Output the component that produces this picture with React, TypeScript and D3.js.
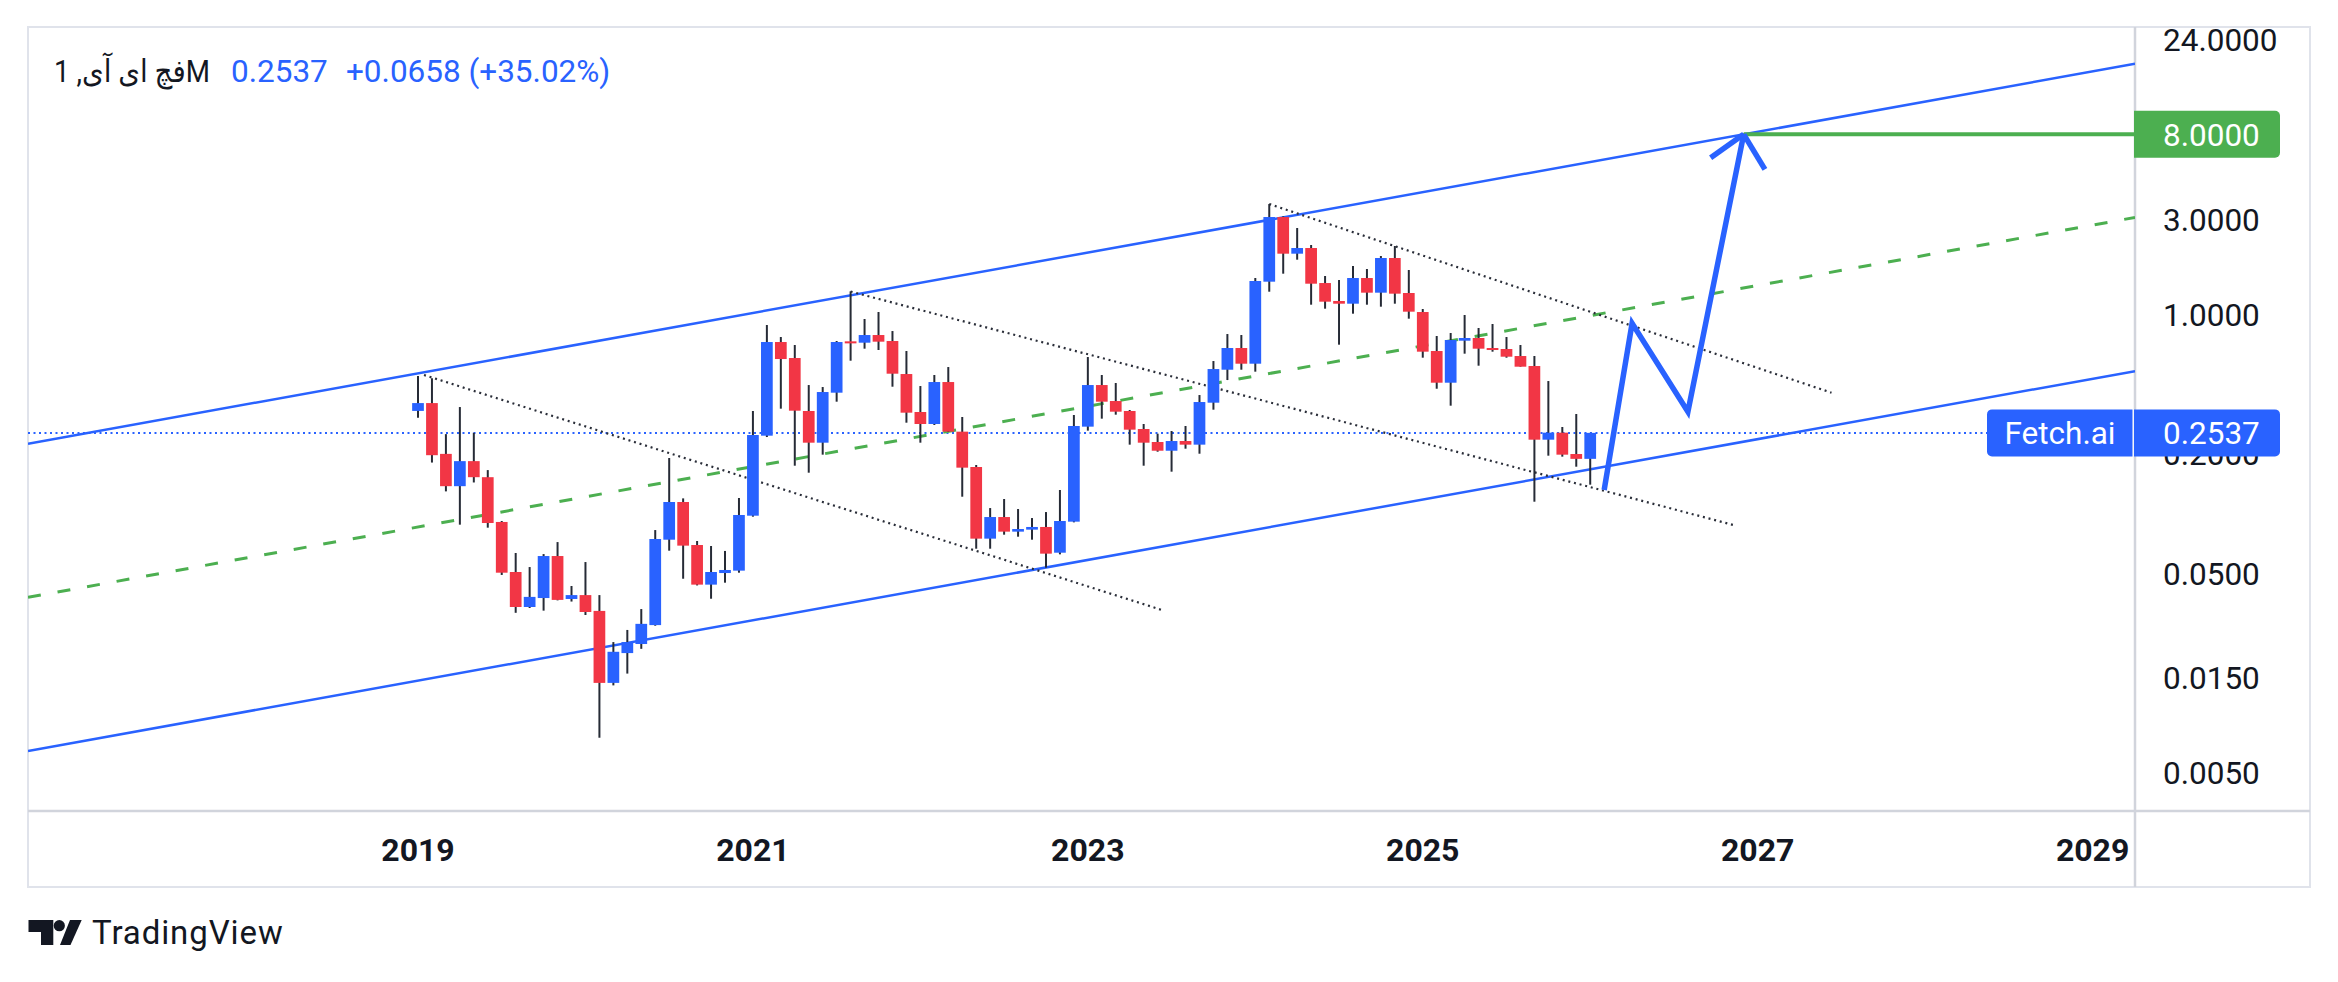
import * as d3 from "d3";

// monthly candles, first bar = Jan 2019 (bar index 0)
const opens = [
  0.327, 0.358, 0.199, 0.137, 0.183, 0.152, 0.0906, 0.0508, 0.0339, 0.0376,
  0.0611, 0.0372, 0.0389, 0.0324, 0.0141, 0.0199, 0.0221, 0.0275, 0.0738, 0.1141,
  0.0694, 0.0439, 0.0502, 0.0516, 0.0974, 0.2456, 0.7251, 0.6027, 0.3267, 0.2265,
  0.4037, 0.7309, 0.7195, 0.7862, 0.7336, 0.5009, 0.3229, 0.2811, 0.4566, 0.2573,
  0.171, 0.0747, 0.0959, 0.081, 0.0829, 0.0855, 0.0635, 0.0909, 0.2726, 0.441,
  0.3666, 0.3267, 0.2653, 0.2283, 0.2064, 0.2309, 0.2214, 0.3596, 0.5265, 0.6766,
  0.5644, 1.4564, 3.0754, 2.013, 2.1494, 1.434, 1.1649, 1.1293, 1.5196, 1.2827,
  1.9148, 1.2778, 1.0257, 0.6535, 0.4531, 0.7364, 0.7596, 0.6766, 0.6689, 0.6168,
  0.5495, 0.2345, 0.2543, 0.1987, 0.1879,
];
const highs = [
  0.49, 0.477, 0.25, 0.342, 0.254, 0.165, 0.0916, 0.0633, 0.0538, 0.0625,
  0.0718, 0.0432, 0.057, 0.0389, 0.0226, 0.026, 0.0331, 0.0825, 0.1897, 0.119,
  0.0727, 0.0686, 0.0648, 0.1195, 0.3267, 0.8826, 0.7683, 0.7004, 0.441, 0.431,
  0.7336, 1.3024, 0.946, 1.0257, 0.8233, 0.6535, 0.436, 0.4952, 0.5431, 0.3048,
  0.175, 0.1064, 0.1181, 0.1052, 0.0948, 0.1016, 0.1311, 0.3119, 0.6097, 0.4952,
  0.4514, 0.3304, 0.2811, 0.2513, 0.2593, 0.2747, 0.3929, 0.5821, 0.7953, 0.7862,
  1.5196, 3.5737, 3.1, 2.7082, 2.2252, 1.5551, 1.4848, 1.7458, 1.6863, 1.9596,
  2.1996, 1.6669, 1.0619, 0.7772, 0.8047, 0.9908, 0.8527, 0.8929, 0.7683, 0.7004,
  0.6168, 0.4619, 0.2716, 0.3155, 0.2537,
];
const lows = [
  0.302, 0.18, 0.129, 0.0878, 0.143, 0.0848, 0.0491, 0.0317, 0.0335, 0.0325,
  0.0366, 0.0361, 0.0309, 0.00748, 0.0137, 0.0157, 0.0209, 0.0273, 0.065, 0.047,
  0.0435, 0.0373, 0.0449, 0.0504, 0.0963, 0.2418, 0.3356, 0.1736, 0.1601, 0.1972,
  0.3638, 0.5843, 0.6714, 0.6612, 0.4326, 0.2854, 0.2265, 0.2779, 0.2563, 0.1213,
  0.0665, 0.0665, 0.0782, 0.0764, 0.0738, 0.0534, 0.0623, 0.0902, 0.2603, 0.299,
  0.3131, 0.2214, 0.1736, 0.2041, 0.162, 0.2113, 0.1994, 0.3317, 0.4672, 0.5265,
  0.5147, 1.2973, 1.5976, 1.8783, 1.1164, 1.066, 0.7031, 1.0061, 1.1164, 1.0909,
  1.1293, 0.9496, 0.605, 0.4226, 0.3474, 0.6337, 0.5515, 0.6485, 0.605, 0.5452,
  0.1145, 0.1949, 0.1927, 0.1716, 0.1394,
];
const closes = [
  0.358, 0.196, 0.137, 0.183, 0.152, 0.0895, 0.0504, 0.0339, 0.0381, 0.0611,
  0.0368, 0.0389, 0.032, 0.0141, 0.0202, 0.0226, 0.0279, 0.0744, 0.1141, 0.0689,
  0.0439, 0.0508, 0.052, 0.0982, 0.2475, 0.7251, 0.5957, 0.3279, 0.2265, 0.4068,
  0.7251, 0.714, 0.7862, 0.728, 0.5028, 0.3204, 0.2811, 0.4566, 0.2573, 0.1697,
  0.0747, 0.0959, 0.081, 0.0835, 0.0855, 0.0628, 0.0916, 0.2747, 0.441, 0.3638,
  0.3241, 0.2633, 0.2265, 0.2064, 0.2309, 0.2214, 0.3624, 0.5306, 0.6766, 0.5644,
  1.4678, 3.0754, 2.013, 2.1494, 1.4229, 1.1559, 1.1293, 1.5196, 1.2827, 1.9148,
  1.268, 1.0297, 0.6485, 0.4531, 0.7421, 0.7596, 0.6714, 0.6637, 0.612, 0.5452,
  0.2345, 0.2543, 0.1972, 0.1879, 0.2537,
];

const firstYear = 2019;
const yearLabels = ["2019", "2021", "2023", "2025", "2027", "2029"];
const priceTicks = [24, 8, 3, 1, 0.2, 0.05, 0.015, 0.005];
const lastPrice = 0.2537;
const targetPrice = 8;
const symbolName = "فچ ای آی, 1M";

// drawings as [bar index, price]
const channelTop = [[16, 0.804], [95, 8.0]];
const channelWidth = 34.9; // price ratio top / bottom
const trendLines = [
  [[0.43, 0.4952], [53.31, 0.03274]],
  [[31, 1.3], [94.42, 0.0869]],
  [[61, 3.574], [101.29, 0.4036]],
];
const arrowPath = [[85, 0.131], [87, 0.9], [91, 0.324], [95, 8.0]];
const arrowWings = [[92.63, 6.106], [96.52, 5.339]];

const BLUE = "#2962FF";
const RED = "#F23645";
const GREEN = "#4CAF50";
const TEXT = "#131722";
const FONT = "Roboto, 'DejaVu Sans', sans-serif";

export default function App() {
  const P = { l: 28, t: 27, r: 2135, b: 811 };
  const frameR = 2310;
  const frameB = 887;

  const x = d3.scaleLinear().domain([0, 120]).range([418, 2092.6]);
  const y = d3.scaleLog().domain([0.003207, 27.66]).range([P.b, P.t]);
  const step = x(1) - x(0);
  const bodyW = step * 0.84;

  const pt = (d: number[]) => [x(d[0]), y(d[1])] as [number, number];
  const extend = (a: number[], b: number[]) => {
    const [x1, y1] = pt(a);
    const [x2, y2] = pt(b);
    const k = (y2 - y1) / (x2 - x1);
    return `M${P.l},${y1 + (P.l - x1) * k}L${P.r},${y1 + (P.r - x1) * k}`;
  };
  const line = d3.line<number[]>().x((d) => x(d[0])).y((d) => y(d[1]));

  const chTop = channelTop;
  const chBot = channelTop.map(([i, p]) => [i, p / channelWidth]);
  const chMid = channelTop.map(([i, p]) => [i, p / Math.sqrt(channelWidth)]);

  const tip = arrowPath[arrowPath.length - 1];
  const yLast = y(lastPrice);
  const yTarget = y(targetPrice);
  const boxH = 47;

  return (
    <svg
      width={2338}
      height={982}
      style={{ position: "absolute", left: 0, top: 0, background: "#fff" }}
      fontFamily={FONT}
    >
      <defs>
        <clipPath id="plot">
          <rect x={P.l} y={P.t} width={P.r - P.l} height={P.b - P.t} />
        </clipPath>
      </defs>
      <rect x={0} y={0} width={2338} height={982} fill="#fff" />

      {/* frame */}
      <rect x={P.l} y={P.t} width={frameR - P.l} height={frameB - P.t} fill="none" stroke="#e0e3eb" strokeWidth={2} />
      <line x1={P.l} x2={frameR} y1={P.b} y2={P.b} stroke="#d1d4dc" strokeWidth={2.5} />
      <line x1={P.r} x2={P.r} y1={P.t} y2={frameB} stroke="#d1d4dc" strokeWidth={2.5} />

      <g clipPath="url(#plot)">
        {/* last price line */}
        <line x1={P.l} x2={P.r} y1={yLast} y2={yLast} stroke={BLUE} strokeWidth={2} strokeDasharray="2 3.5" />

        {/* parallel channel */}
        <path d={extend(chTop[0], chTop[1])} stroke={BLUE} strokeWidth={2.5} fill="none" />
        <path d={extend(chBot[0], chBot[1])} stroke={BLUE} strokeWidth={2.5} fill="none" />
        <path d={extend(chMid[0], chMid[1])} stroke={GREEN} strokeWidth={3} strokeDasharray="13 17" fill="none" />

        {/* dotted trend lines */}
        {trendLines.map((l, i) => (
          <path key={i} d={line(l) || ""} stroke="#2a2e39" strokeWidth={2.2} strokeDasharray="2 3.8" fill="none" />
        ))}

        {/* candles */}
        {opens.map((o, i) => {
          const c = closes[i];
          const up = c >= o;
          const cx = x(i);
          const top = y(Math.max(o, c));
          const bot = y(Math.min(o, c));
          return (
            <g key={i}>
              <line x1={cx} x2={cx} y1={y(highs[i])} y2={y(lows[i])} stroke="#262b36" strokeWidth={2} />
              <rect x={cx - bodyW / 2} y={top} width={bodyW} height={Math.max(bot - top, 2)} fill={up ? BLUE : RED} />
            </g>
          );
        })}

        {/* target line */}
        <line x1={x(tip[0])} x2={P.r} y1={yTarget} y2={yTarget} stroke={GREEN} strokeWidth={4} />

        {/* projection arrow */}
        <path d={line(arrowPath) || ""} stroke={BLUE} strokeWidth={5.5} fill="none" strokeLinejoin="miter" />
        {arrowWings.map((w, i) => (
          <path key={i} d={line([tip, w]) || ""} stroke={BLUE} strokeWidth={5.5} fill="none" />
        ))}
      </g>

      {/* header */}
      <text x={54} y={82} fontSize={31.5} fill={TEXT} textLength={156} lengthAdjust="spacingAndGlyphs">
        {symbolName}
      </text>
      <text x={231} y={82} fontSize={31.5} fill={BLUE}>{lastPrice.toFixed(4)}</text>
      <text x={346} y={82} fontSize={31.5} fill={BLUE}>+0.0658 (+35.02%)</text>

      {/* price axis */}
      {priceTicks.map((t) => (
        <text key={t} x={2163} y={y(t)} dy="0.36em" fontSize={31.5} fill={TEXT}>
          {t.toFixed(4)}
        </text>
      ))}

      {/* target label */}
      <path
        d={`M${P.r - 1},${yTarget - boxH / 2}H${2275}a5,5 0 0 1 5,5V${yTarget + boxH / 2 - 5}a5,5 0 0 1 -5,5H${P.r - 1}Z`}
        fill={GREEN}
      />
      <text x={2163} y={yTarget} dy="0.36em" fontSize={31.5} fill="#fff">{targetPrice.toFixed(4)}</text>

      {/* last price labels */}
      <path
        d={`M${1992},${yLast - boxH / 2}H${2132.5}V${yLast + boxH / 2}H${1992}a5,5 0 0 1 -5,-5V${yLast - boxH / 2 + 5}a5,5 0 0 1 5,-5Z`}
        fill={BLUE}
      />
      <text x={2060} y={yLast} dy="0.36em" fontSize={31.5} fill="#fff" textAnchor="middle">Fetch.ai</text>
      <path
        d={`M${2134},${yLast - boxH / 2}H${2275}a5,5 0 0 1 5,5V${yLast + boxH / 2 - 5}a5,5 0 0 1 -5,5H${2134}Z`}
        fill={BLUE}
      />
      <text x={2163} y={yLast} dy="0.36em" fontSize={31.5} fill="#fff">{lastPrice.toFixed(4)}</text>

      {/* time axis */}
      {yearLabels.map((yr) => (
        <text
          key={yr}
          x={x((+yr - firstYear) * 12)}
          y={849}
          dy="0.36em"
          fontSize={32}
          fontWeight="bold"
          fill={TEXT}
          textAnchor="middle"
        >
          {yr}
        </text>
      ))}

      {/* TradingView logo */}
      <g fill={TEXT}>
        <path d="M28.5,920H53.3V945H41V932H28.5Z" />
        <circle cx={59.3} cy={925.7} r={5.6} />
        <path d="M60,945L70,920H81.7L70.5,945Z" />
      </g>
      <text x={92} y={944.3} fontSize={33} letterSpacing={0.9} fill={TEXT}>TradingView</text>
    </svg>
  );
}
